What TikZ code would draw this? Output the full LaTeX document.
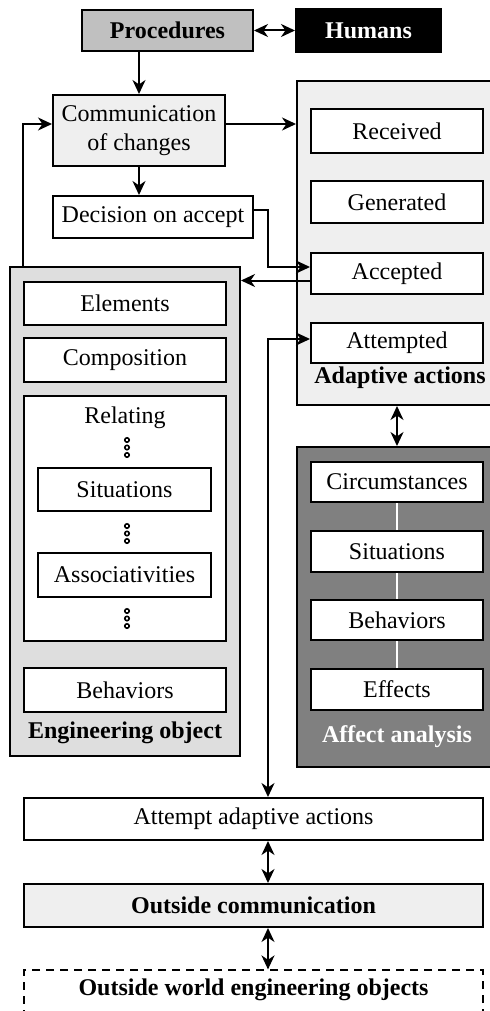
\documentclass[tikz,border=0pt]{standalone}
\usepackage{fontspec}
\setmainfont{Liberation Serif}
\usetikzlibrary{arrows.meta}
\definecolor{lightfill}{HTML}{EFEFEF}
\definecolor{engfill}{HTML}{DEDEDE}
\definecolor{procfill}{HTML}{C0C0C0}
\definecolor{affectfill}{HTML}{808080}
\tikzset{
  every node/.style={font=\fontsize{12}{14.5}\selectfont},
  box/.style={draw, fill=white, line width=1pt, inner sep=0pt, align=center},
  cont/.style={draw, line width=1pt, inner sep=0pt},
  lbl/.style={inner sep=0pt, font=\fontsize{12}{14.5}\selectfont\bfseries},
  tip/.tip={Stealth[length=7pt,width=6.5pt,inset=2.2pt]},
  conn/.style={line width=1pt, -tip},
  dconn/.style={line width=1pt, tip-tip},
  dotc/.style={line width=0.8pt},
}
\begin{document}
\begin{tikzpicture}[x=0.5pt,y=-0.5pt]
\useasboundingbox (0,0) rectangle (490,1011);
\clip (0,0) rectangle (490,1011);

% containers
\node[cont, fill=lightfill, minimum width=97.5pt, minimum height=162pt] (adapt) at (394.5,243) {};
\node[cont, fill=affectfill, minimum width=97.5pt, minimum height=160pt] (affect) at (394.5,607) {};
\node[cont, fill=engfill, minimum width=115pt, minimum height=244.5pt] (eng) at (125,511.5) {};

% top
\node[box, fill=procfill, minimum width=85.5pt, minimum height=20.5pt, font=\fontsize{12}{14.5}\selectfont\bfseries] (proc) at (167.5,30.5) {Procedures};
\node[box, fill=black, text=white, minimum width=72.5pt, minimum height=21.5pt, font=\fontsize{12}{14.5}\selectfont\bfseries] (humans) at (368.5,30.5) {Humans};
\node[box, fill=lightfill, minimum width=86pt, minimum height=35.5pt] (comm) at (139,130.5) {Communication\\of changes};
\node[box, minimum width=100pt, minimum height=21pt] (decision) at (153,217) {Decision on accept};

% adaptive actions
\node[box, minimum width=86pt, minimum height=22pt] (received) at (397,131) {Received};
\node[box, minimum width=86pt, minimum height=21pt] (generated) at (397,202) {Generated};
\node[box, minimum width=86pt, minimum height=20.5pt] (accepted) at (397,273.5) {Accepted};
\node[box, minimum width=86pt, minimum height=20pt] (attempted) at (397,343) {Attempted};
\node[lbl] (adaptlbl) at (400,378) {Adaptive actions};

% affect analysis
\node[box, minimum width=86pt, minimum height=20pt] (circ) at (397,482) {Circumstances};
\node[box, minimum width=86pt, minimum height=20.5pt] (asit) at (397,551.5) {Situations};
\node[box, minimum width=86pt, minimum height=20pt] (abeh) at (397,620) {Behaviors};
\node[box, minimum width=86pt, minimum height=20.5pt] (aeff) at (397,689.5) {Effects};
\node[lbl, text=white] (affectlbl) at (397,737) {Affect analysis};
\draw[white, line width=0.8pt] (circ.south) -- (asit.north);
\draw[white, line width=0.8pt] (asit.south) -- (abeh.north);
\draw[white, line width=0.8pt] (abeh.south) -- (aeff.north);

% engineering object
\node[box, minimum width=101pt, minimum height=21.5pt] (elements) at (125,303.5) {Elements};
\node[box, minimum width=101pt, minimum height=22pt] (composition) at (125,360) {Composition};
\node[box, minimum width=101pt, minimum height=122.5pt] (relating) at (125,518.5) {};
\node[inner sep=0pt] (relatinglbl) at (125,418) {Relating};
\node[box, minimum width=86.5pt, minimum height=21.5pt] (esit) at (124.5,489.5) {Situations};
\node[box, minimum width=86.5pt, minimum height=22pt] (assoc) at (124.5,575) {Associativities};
\node[box, minimum width=101pt, minimum height=22pt] (ebeh) at (125,690) {Behaviors};
\node[lbl] (englbl) at (125,733) {Engineering object};
\foreach \y in {440,447.5,455, 526,533.5,541, 611,618.5,626}
  \draw[dotc] (127,\y) circle[radius=1.1pt];

% bottom
\node[box, minimum width=229.5pt, minimum height=21pt] (attempt) at (253.5,819) {Attempt adaptive actions};
\node[box, fill=lightfill, minimum width=229.5pt, minimum height=21.5pt, font=\fontsize{12}{14.5}\selectfont\bfseries] (outcomm) at (253.5,905.5) {Outside communication};
\node[draw, dashed, dash pattern=on 4pt off 3pt, line width=0.6pt, inner sep=0pt, minimum width=229.5pt, minimum height=60pt] (outworld) at (253.5,1030) {};
\node[lbl] (outworldlbl) at (253.5,990) {Outside world engineering objects};

\coordinate (bus) at (268,0);

% connectors
\draw[dconn] (proc.east) -- (humans.west);
\draw[conn] (proc.south -| comm.north) -- (comm.north);
\draw[conn] (comm.south) -- (comm.south |- decision.north);
\draw[conn] ([yshift=3.25pt]comm.east) -- ([yshift=3.25pt]comm.east -| adapt.west);
\draw[conn] (eng.north west) ++(14,0) |- ([yshift=3.25pt]comm.west);
\draw[conn] ([yshift=3.5pt]decision.east) -| ([yshift=3.25pt]accepted.west -| bus) -- ([yshift=3.25pt]accepted.west);
\draw[conn] ([yshift=-3.5pt]accepted.west) -- ([yshift=-3.5pt]accepted.west -| eng.east);
\draw[dconn] ([yshift=2pt]attempted.west) -| (bus |- attempt.north);
\draw[dconn] (circ.north |- adapt.south) -- (circ.north |- affect.north);
\draw[dconn] (bus |- attempt.south) -- (bus |- outcomm.north);
\draw[dconn] (bus |- outcomm.south) -- (bus |- outworld.north);
\end{tikzpicture}
\end{document}
